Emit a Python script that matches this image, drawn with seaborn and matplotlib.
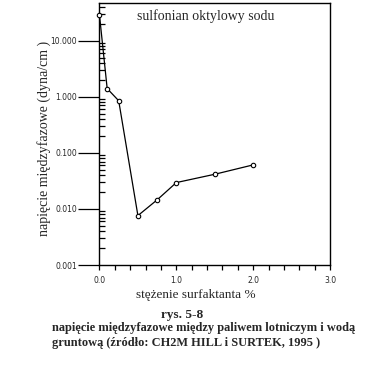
import numpy as np
import pandas as pd
import seaborn as sns
import matplotlib.pyplot as plt
from matplotlib.ticker import FixedLocator, NullFormatter

# values
stezenie = [0.0, 0.1, 0.25, 0.5, 0.75, 1.0, 1.25, 1.5, 2.0]
napiecie = [28.5, 1.4, 0.85, 0.0076, 0.0145, 0.0295, 0.035, 0.0415, 0.061]
y_ticks = [0.001, 0.01, 0.1, 1.0, 10.0]
y_labels = ["0.001", "0.010", "0.100", "1.000", "10.000"]
x_ticks = [0.0, 1.0, 2.0, 3.0]
x_labels = ["0.0", "1.0", "2.0", "3.0"]

df = pd.DataFrame({"x": stezenie, "y": napiecie})

sns.set_style("white")
plt.rcParams['font.family'] = ['Liberation Serif', 'DejaVu Serif']

fig = plt.figure(figsize=(3.76, 3.71), dpi=100)
ax = fig.add_axes([0.2646, 0.2857, 0.6130, 0.7062])

sns.lineplot(data=df, x="x", y="y", ax=ax, color="black", linewidth=0.9,
             marker="o", markersize=3.2, markerfacecolor="white",
             markeredgecolor="black", markeredgewidth=0.8,
             markevery=[0, 1, 2, 3, 4, 5, 7, 8], clip_on=False, zorder=5)

ax.set_yscale("log")
ax.set_xlim(0, 3.0)
ax.set_ylim(0.001, 47)

for s in ax.spines.values():
    s.set_color("black")
    s.set_linewidth(1.0)

# x ticks: labelled every 1.0, marks every 0.2, pointing out
ax.set_xticks(x_ticks)
ax.set_xticklabels(x_labels, family=['DejaVu Sans'], fontsize=5.5)
ax.xaxis.set_minor_locator(FixedLocator(np.arange(0, 3.01, 0.2)))
ax.tick_params(axis="x", which="both", direction="out", length=3.8, width=0.9,
               color="black", pad=4, bottom=True)

# y ticks: long outward majors, short inward minors
ax.set_yticks(y_ticks)
ax.set_yticklabels(y_labels, family=['DejaVu Sans'], fontsize=5.5)
minors = [m * 10.0 ** e for e in range(-3, 2) for m in range(2, 10)]
ax.yaxis.set_minor_locator(FixedLocator(minors))
ax.yaxis.set_minor_formatter(NullFormatter())
ax.tick_params(axis="y", which="major", direction="out", length=15, width=0.9,
               color="black", pad=1, left=True)
ax.tick_params(axis="y", which="minor", direction="in", length=4.5, width=0.9,
               color="black", left=True)

ax.set_xlabel("stężenie surfaktanta %", fontsize=9.5)
ax.xaxis.set_label_coords(0.4165, -0.092)
ax.set_ylabel("napięcie międzyfazowe (dyna/cm )", fontsize=10)
ax.yaxis.set_label_coords(-0.212, 0.483)

ax.text(0.462, 0.975, "sulfonian oktylowy sodu", transform=ax.transAxes,
        ha="center", va="top", fontsize=10)

fig.text(0.484, 0.151, "rys. 5-8", ha="center", va="center",
         fontsize=9.5, fontweight="bold")
fig.text(0.1375, 0.115, "napięcie międzyfazowe między paliwem lotniczym i wodą",
         ha="left", va="center", fontsize=8.9, fontweight="bold")
fig.text(0.1375, 0.0747, "gruntową (źródło: CH2M HILL i SURTEK, 1995 )",
         ha="left", va="center", fontsize=8.9, fontweight="bold")

plt.savefig("out.png", dpi=100)
